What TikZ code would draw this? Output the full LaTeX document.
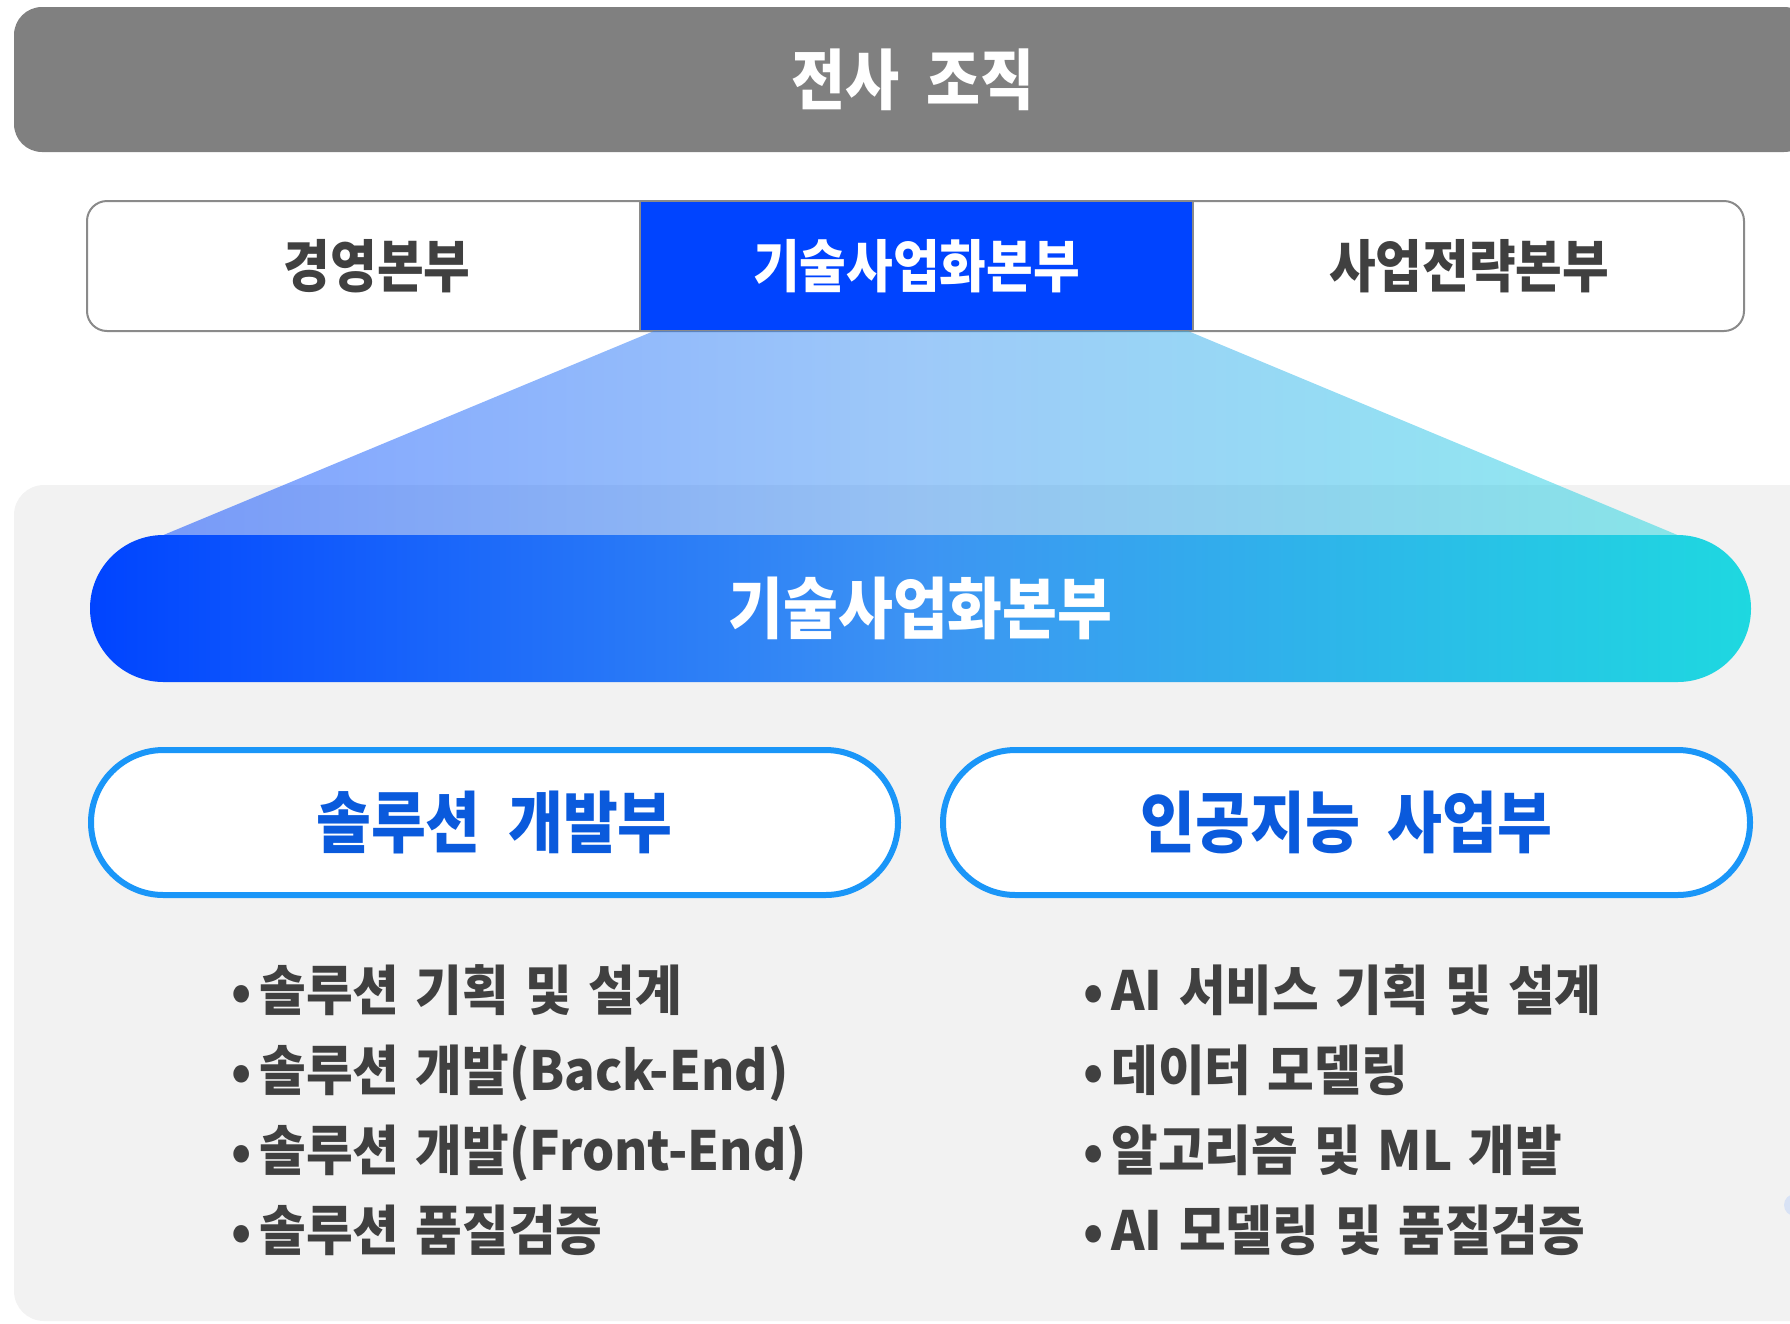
\documentclass[tikz,border=0pt]{standalone}
\usepackage{fontspec}
\setmainfont{Noto Sans CJK KR}[FakeStretch=0.89, WordSpace=2.0]
\newfontfamily\itemfont{Noto Sans CJK KR}[FakeStretch=0.94, WordSpace=1.4]
\usetikzlibrary{calc}
\definecolor{topgray}{HTML}{808080}
\definecolor{panelgray}{HTML}{F2F2F2}
\definecolor{framegray}{HTML}{8A8A8A}
\definecolor{techblue}{HTML}{0044FF}
\definecolor{techmid}{HTML}{3D94F3}
\definecolor{techcyan}{HTML}{1ED8E0}
\definecolor{deptline}{HTML}{1A96F8}
\definecolor{depttext}{HTML}{0A5ADC}
\definecolor{itemtext}{HTML}{404040}
\definecolor{dotblue}{HTML}{D8E2F5}

\begin{document}
\begin{tikzpicture}[
    x = 1pt, y = -1pt,
    topbar/.style = {fill=topgray, rounded corners=28pt, minimum width=1798pt,
        minimum height=145pt, outer sep=0pt, inner sep=0pt, text=white,
        font=\bfseries\fontsize{66}{70}\selectfont, text height=52.8pt, text depth=3.3pt},
    rowtxt/.style = {font=\bfseries\fontsize{57}{60}\selectfont, text=itemtext,
        inner sep=0pt, text height=45.6pt, text depth=2.9pt},
    cell/.style = {rowtxt, text=white, draw=framegray, line width=2pt, fill=techblue,
        minimum width=553pt, minimum height=130pt, outer sep=0pt},
    pill/.style = {rounded corners=73.5pt, minimum width=1661pt, minimum height=147pt,
        outer sep=0pt, inner sep=0pt, text=white,
        font=\bfseries\fontsize{67}{70}\selectfont, text height=53.6pt, text depth=3.3pt,
        left color=techblue, right color=techcyan, middle color=techmid},
    dept/.style = {draw=deptline, line width=6pt, fill=white, rounded corners=72.5pt,
        minimum width=807pt, minimum height=145pt, outer sep=0pt, inner sep=0pt,
        text=depttext, font=\bfseries\fontsize{67}{70}\selectfont,
        text height=53.6pt, text depth=3.4pt},
    item/.style = {font=\itemfont\bfseries\fontsize{54}{56}\selectfont, text=itemtext,
        inner sep=0pt, text height=43.2pt, text depth=2.7pt, anchor=west}
  ]
  \useasboundingbox (0,0) rectangle (1790,1323);

  \node[topbar] (TOP) at (913,79.5) {전사 조직};

  \draw[draw=framegray, line width=2pt, fill=white, rounded corners=20pt]
    (87,201) rectangle (1744,331);
  \node[cell] (techbiz) at (916.5,266) {기술사업화본부};
  \node[rowtxt] (mgmt) at (377,266) {경영본부};
  \node[rowtxt] (strategy) at (1469,266) {사업전략본부};

  \fill[panelgray, rounded corners=30pt] (14,485) rectangle (1840,1321);

  \node[pill] (techpill) at (920.5,608.5) {기술사업화본부};
  \shade[left color=techblue, right color=techcyan, middle color=techmid, fill opacity=0.5]
    ($(techbiz.south west)+(14,0)$) -- ($(techbiz.south east)+(-5,0)$)
    -- ($(techpill.north east)+(-73.5,0)$) -- ($(techpill.north west)+(73.5,0)$) -- cycle;

  \node[dept] (solution) at (494.5,822.5) {솔루션 개발부};
  \node[dept] (ai) at (1346.5,822.5) {인공지능 사업부};

  \foreach \txt [count=\i] in {솔루션 기획 및 설계, 솔루션 개발(Back-End),
      솔루션 개발(Front-End), 솔루션 품질검증}
    \node[item] (sol\i) at (231, 910+80*\i) {•\hspace{8pt}\txt};
  \foreach \txt [count=\i] in {AI 서비스 기획 및 설계, 데이터 모델링,
      알고리즘 및 ML 개발, AI 모델링 및 품질검증}
    \node[item] (ai\i) at (1083, 910+80*\i) {•\hspace{8pt}\txt};

  \fill[dotblue] (1795,1205) circle (11);
\end{tikzpicture}
\end{document}
